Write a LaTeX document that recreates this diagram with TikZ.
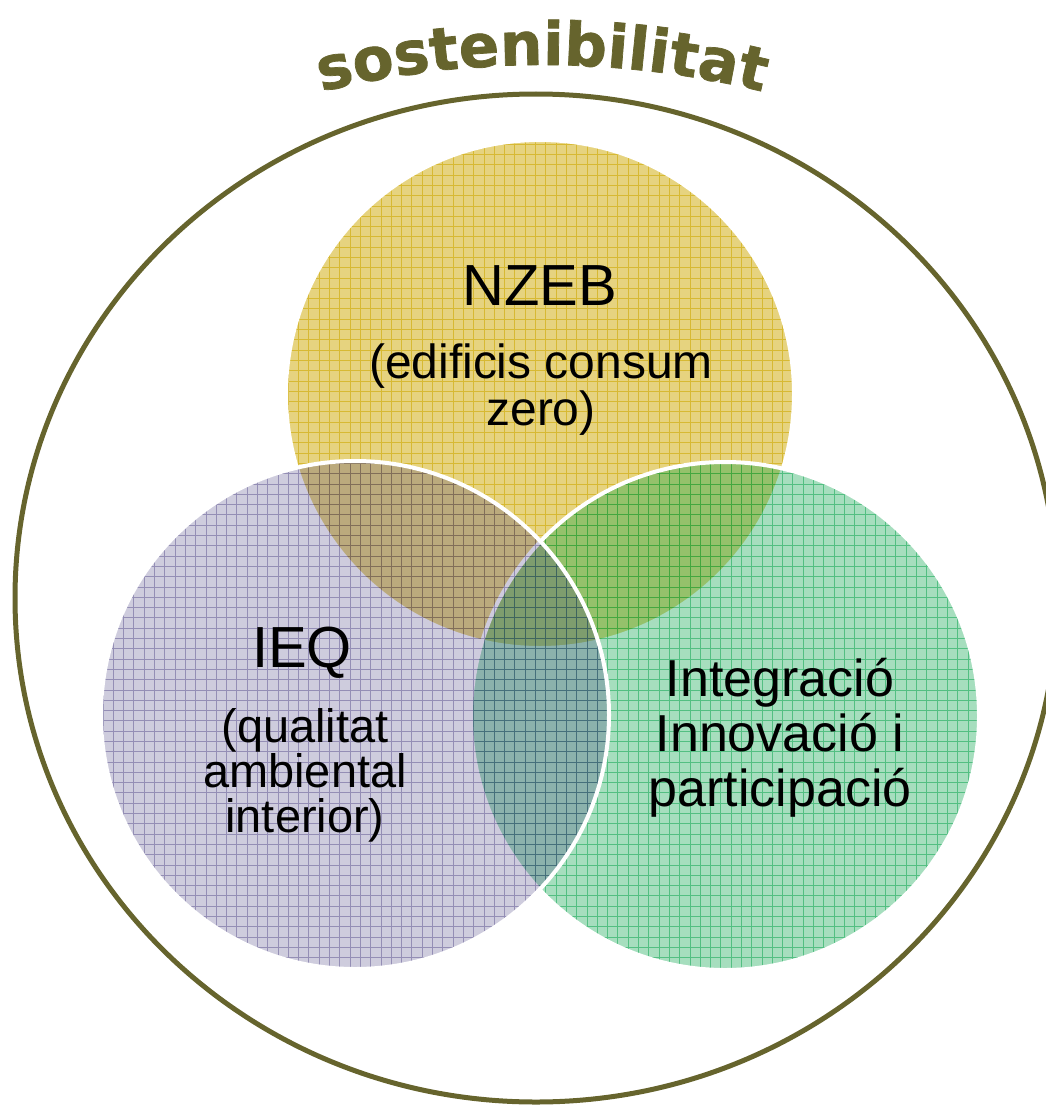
\documentclass[tikz,border=0pt]{standalone}
\usepackage{fontspec}
\setmainfont{Liberation Sans}
\newfontfamily\titlefont{DejaVu Sans}[BoldFeatures={FakeBold=1.2}]
\usetikzlibrary{decorations.text}

\definecolor{ringcol}{RGB}{102,100,45}
\definecolor{nzebcol}{RGB}{205,168,0}
\definecolor{ieqcol}{RGB}{60,50,120}
\definecolor{intcol}{RGB}{0,160,70}

\begin{document}
\begin{tikzpicture}[x=0.02cm, y=-0.02cm,
	venntext/.style={align=center, inner sep=0pt, text=black},
	vennedge/.style={white, line width=0.08cm},
	bigtext/.style={font=\fontsize{33}{36}\selectfont}]

	\useasboundingbox (0,0) rectangle (1045,1105);

	% Outer ring
	\draw[ringcol, line width=0.1cm] (536,598) ellipse [x radius=521, y radius=504];

	% Title on an arc
	\path[decorate, decoration={text along path, text align=center,
		text={|\titlefont\bfseries\fontsize{34}{34}\selectfont\color{ringcol}|sostenibilitat}}]
		(542,990) ++(250:925) arc [start angle=250, end angle=290, radius=925];

	% Three circles: fill, grid, white edge
	\foreach \cx/\cy/\col/\fo/\go in {540/394/nzebcol/0.5/0.6, 725/716/intcol/0.35/0.5, 355/715/ieqcol/0.25/0.4}{
		\begin{scope}
			\clip (\cx,\cy) circle [radius=254];
			\fill[\col, opacity=\fo] (\cx,\cy) circle [radius=254];
			\draw[\col, opacity=\go, line width=0.5pt, step=0.206cm] (\cx-260,\cy+260) grid (\cx+260,\cy-260);
		\end{scope}
		\draw[vennedge] (\cx,\cy) circle [radius=254];
	}

	% NZEB
	\node[venntext, bigtext, anchor=base] (nzeb) at (540,305) {NZEB};
	\node[venntext, font=\fontsize{27.3}{26.7}\selectfont] (nzebsub) at (541,390) {(edificis consum\\zero)};

	% IEQ
	\node[venntext, bigtext, anchor=base] (ieq) at (302,667) {IEQ};
	\node[venntext, font=\fontsize{26.7}{25.6}\selectfont] (ieqsub) at (305,775) {(qualitat\\ambiental\\interior)};

	% Integracio
	\node[venntext, font=\fontsize{29.6}{31.3}\selectfont] (integ) at (780,738) {Integració\\Innovació i\\participació};

\end{tikzpicture}
\end{document}
